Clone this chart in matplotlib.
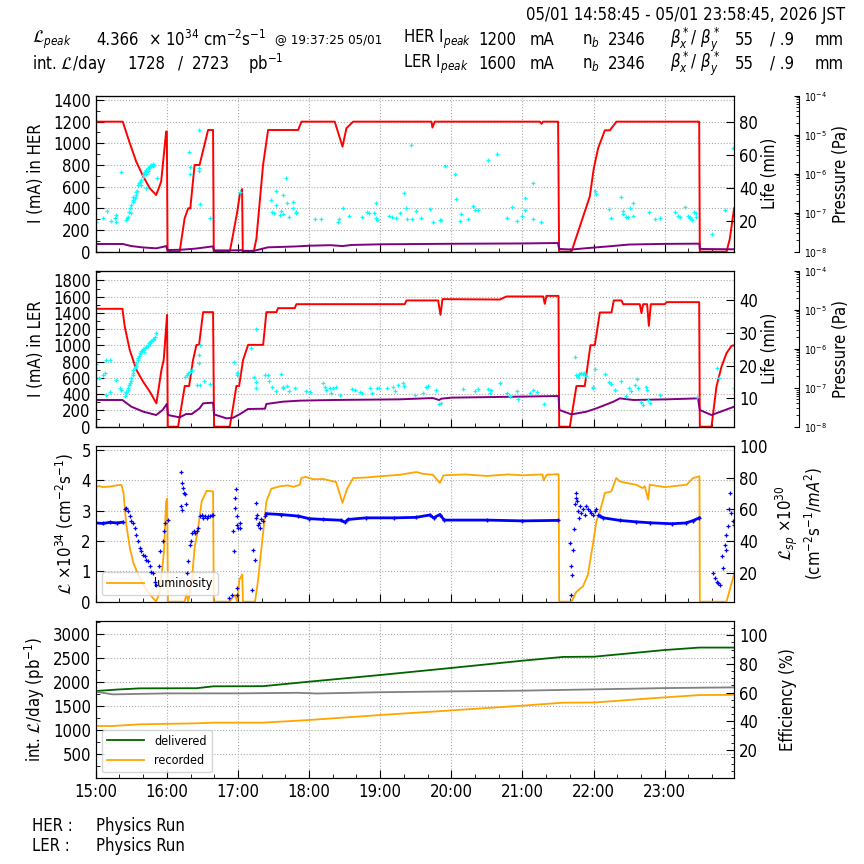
import matplotlib
matplotlib.use("Agg")
import matplotlib.pyplot as plt
from matplotlib.ticker import MultipleLocator, FixedLocator

plt.rcParams['font.family'] = ['DejaVu Sans']
plt.rcParams['font.stretch'] = 'condensed'
plt.rcParams['font.size'] = 12

# ---- data (time in hours, JST) ----
her_current = [(14.98, 1200), (15.38, 1200), (15.43, 1100), (15.48, 1000), (15.57, 830), (15.67, 692),
               (15.76, 585), (15.85, 523), (15.92, 646), (15.99, 1108), (16.0, 1110), (16.01, 0),
               (16.18, 0), (16.25, 308), (16.30, 400), (16.33, 400), (16.39, 800), (16.46, 800),
               (16.58, 1123), (16.65, 1123), (16.66, 0), (16.885, 0), (16.93, 154), (16.99, 369),
               (17.025, 523), (17.058, 578), (17.068, 0), (17.222, 0), (17.26, 123), (17.353, 800),
               (17.424, 1123), (17.846, 1123), (17.893, 1200), (18.361, 1200), (18.47, 970),
               (18.526, 1140), (18.62, 1200), (19.721, 1200), (19.735, 1145), (19.768, 1200),
               (21.245, 1200), (21.269, 1180), (21.29, 1200), (21.502, 1200), (21.516, 0), (21.69, 0),
               (21.948, 510), (22.004, 770), (22.065, 955), (22.159, 1120), (22.229, 1120),
               (22.323, 1200), (23.486, 1200), (23.495, 0), (23.871, 0), (23.917, 120), (23.977, 400)]
her_life = [(14.98, 71), (15.38, 71), (15.5, 52), (15.65, 40), (15.85, 31), (15.95, 45), (15.99, 52),
            (16.01, 15), (16.2, 18), (16.4, 28), (16.6, 45), (16.65, 49), (16.66, 12), (16.9, 12),
            (17.05, 14), (17.07, 8), (17.22, 8), (17.3, 20), (17.42, 40), (17.8, 48), (18.0, 55),
            (18.3, 60), (18.47, 52), (18.6, 62), (19.0, 68), (20.0, 73), (21.0, 76), (21.5, 80),
            (21.516, 25), (21.69, 20), (21.95, 35), (22.23, 50), (22.5, 66), (23.0, 72), (23.49, 74),
            (23.495, 25), (23.977, 22)]
her_press = [(15.01, 508), (15.01, 277), (15.10, 308), (15.16, 375), (15.22, 283), (15.27, 308),
             (15.28, 338), (15.28, 271), (15.36, 732), (15.42, 292), (15.44, 314), (15.45, 323),
             (15.47, 369), (15.48, 400), (15.49, 354), (15.50, 431), (15.52, 462), (15.53, 477),
             (15.53, 508), (15.55, 492), (15.56, 554), (15.57, 523), (15.58, 560), (15.60, 615),
             (15.61, 631), (15.62, 646), (15.63, 615), (15.64, 662), (15.66, 708), (15.67, 692),
             (15.68, 723), (15.69, 738), (15.70, 714), (15.71, 754), (15.73, 769), (15.74, 745),
             (15.75, 775), (15.76, 785), (15.77, 791), (15.78, 800), (15.80, 794), (15.81, 806),
             (15.82, 800), (15.71, 585), (15.86, 683), (16.31, 923), (16.33, 785), (16.32, 714),
             (16.45, 1123), (16.45, 769), (16.45, 745), (16.46, 437), (16.61, 314), (17.03, 554),
             (17.46, 477), (17.48, 369), (17.50, 354), (17.54, 560), (17.54, 431), (17.59, 338),
             (17.60, 375), (17.63, 345), (17.63, 523), (17.67, 677), (17.69, 446), (17.72, 323),
             (17.78, 462), (17.78, 406), (17.81, 369), (17.82, 354), (18.08, 302), (18.17, 302),
             (18.41, 277), (18.42, 302), (18.48, 400), (18.56, 332), (18.74, 323), (18.81, 369),
             (18.84, 354), (18.92, 354), (18.94, 446), (18.94, 314), (18.95, 292), (19.13, 329),
             (19.17, 323), (19.22, 308), (19.28, 354), (19.33, 538), (19.37, 400), (19.38, 302),
             (19.44, 985), (19.45, 302), (19.51, 375), (19.57, 308), (19.70, 394), (19.74, 271),
             (19.84, 292), (19.86, 292), (19.91, 794), (20.05, 714), (20.06, 483), (20.12, 283),
             (20.14, 345), (20.24, 298), (20.31, 425), (20.33, 382), (20.38, 382), (20.52, 846),
             (20.64, 898), (20.78, 308), (20.85, 409), (20.92, 283), (21.00, 332), (21.03, 492),
             (21.04, 385), (21.15, 631), (21.15, 298), (21.26, 277), (22.02, 560), (22.03, 532),
             (22.22, 391), (22.24, 308), (22.39, 502), (22.41, 378), (22.42, 345), (22.46, 323),
             (22.49, 323), (22.52, 400), (22.56, 446), (22.56, 332), (22.78, 363), (22.86, 298),
             (22.93, 308), (23.14, 363), (23.19, 329), (23.21, 317), (23.28, 409), (23.33, 332),
             (23.35, 323), (23.36, 308), (23.38, 292), (23.42, 369), (23.44, 360), (23.44, 323),
             (23.66, 160), (23.85, 385), (23.96, 960)]

ler_current = [(14.98, 1451), (15.375, 1451), (15.408, 1233), (15.478, 945), (15.572, 699),
               (15.666, 555), (15.76, 432), (15.853, 288), (15.924, 699), (15.956, 822),
               (16.003, 1377), (16.013, 0), (16.158, 0), (16.252, 501), (16.313, 501), (16.369, 822),
               (16.416, 1007), (16.453, 1007), (16.51, 1410), (16.65, 1410), (16.664, 0), (16.885, 0),
               (16.932, 247), (16.978, 501), (17.016, 501), (17.072, 822), (17.143, 1007),
               (17.354, 1007), (17.4, 1410), (17.541, 1410), (17.564, 1459), (17.799, 1459),
               (17.822, 1508), (19.346, 1508), (19.37, 1554), (19.815, 1554), (19.848, 1377),
               (19.876, 1570), (20.682, 1565), (20.776, 1603), (21.292, 1603), (21.315, 1512),
               (21.338, 1610), (21.507, 1610), (21.517, 0), (21.667, 0), (21.76, 501), (21.877, 501),
               (21.957, 1003), (22.018, 1003), (22.089, 1406), (22.253, 1406), (22.285, 1554),
               (22.393, 1554), (22.417, 1508), (22.651, 1508), (22.674, 1397), (22.698, 1508),
               (22.754, 1508), (22.778, 1241), (22.806, 1508), (23.003, 1508), (23.026, 1533),
               (23.486, 1533), (23.495, 0), (23.659, 0), (23.729, 493), (23.8, 740), (23.87, 904),
               (23.94, 995), (23.978, 1003)]
ler_life = [(14.98, 329), (15.375, 329), (15.5, 247), (15.67, 185), (15.85, 144), (15.94, 206),
            (16.0, 280), (16.015, 144), (16.18, 115), (16.27, 156), (16.35, 156), (16.46, 226),
            (16.51, 288), (16.65, 296), (16.664, 152), (16.84, 103), (16.93, 110), (17.03, 156),
            (17.14, 218), (17.38, 222), (17.4, 280), (17.63, 308), (17.87, 321), (18.34, 329),
            (19.27, 337), (19.74, 353), (19.83, 329), (19.86, 345), (20.0, 358), (20.96, 370),
            (21.507, 378), (21.52, 206), (21.69, 152), (21.9, 185), (22.04, 226), (22.28, 308),
            (22.37, 349), (22.56, 329), (23.03, 337), (23.47, 349), (23.495, 206), (23.659, 144),
            (23.978, 247)]
ler_press = [(15.01, 773), (15.05, 596), (15.10, 637), (15.13, 658), (15.14, 822), (15.15, 390),
             (15.20, 822), (15.20, 432), (15.29, 575), (15.34, 473), (15.36, 452),
             (15.41, 378), (15.42, 411), (15.43, 432), (15.45, 452), (15.46, 473), (15.47, 514),
             (15.48, 543), (15.49, 567), (15.50, 596), (15.52, 637), (15.53, 658), (15.53, 699),
             (15.55, 719), (15.56, 748), (15.57, 781), (15.59, 822), (15.60, 843), (15.61, 871),
             (15.62, 904), (15.63, 912), (15.64, 937), (15.66, 945), (15.67, 954), (15.68, 925),
             (15.69, 966), (15.70, 986), (15.71, 978), (15.73, 995), (15.74, 1007), (15.75, 1028),
             (15.76, 1036), (15.77, 1048), (15.78, 1056), (15.80, 1069), (15.81, 1077),
             (15.82, 1085), (15.83, 1101), (15.85, 1151),
             (16.25, 616), (16.28, 637), (16.30, 666), (16.32, 678), (16.35, 699), (16.42, 514),
             (16.45, 884), (16.45, 789), (16.46, 514), (16.52, 567), (16.60, 526), (16.46, 1007),
             (16.95, 801), (16.98, 658), (16.99, 637), (17.00, 658), (17.18, 966), (17.26, 1200),
             (17.22, 608), (17.25, 555), (17.26, 481), (17.38, 637), (17.42, 637), (17.44, 567),
             (17.48, 493), (17.54, 444), (17.61, 645), (17.63, 493), (17.63, 473), (17.69, 501),
             (17.72, 444), (17.80, 473), (17.95, 444), (18.01, 432), (18.20, 534), (18.22, 493),
             (18.24, 452), (18.29, 481), (18.31, 411), (18.34, 481), (18.38, 493), (18.44, 390),
             (18.60, 460), (18.64, 452), (18.71, 432), (18.75, 419), (18.85, 473), (18.88, 411),
             (18.95, 481), (18.99, 481), (19.09, 473), (19.18, 493), (19.21, 440), (19.25, 514),
             (19.32, 534), (19.33, 501), (19.49, 390), (19.60, 411), (19.65, 493), (19.67, 501),
             (19.79, 452), (19.83, 280), (19.85, 296),
             (20.17, 460), (20.33, 440), (20.38, 460), (20.52, 460), (20.54, 419), (20.56, 452),
             (20.68, 534), (20.79, 419), (20.82, 378), (20.92, 440), (20.94, 337), (21.10, 411),
             (21.15, 452), (21.20, 432), (21.30, 280), (21.74, 863), (21.76, 637), (21.78, 616),
             (21.80, 649), (21.82, 658), (21.85, 645), (21.87, 658), (21.89, 625), (21.99, 493),
             (21.99, 473), (22.02, 707), (22.16, 645), (22.22, 555), (22.24, 526), (22.30, 452),
             (22.39, 563), (22.45, 378), (22.5, 473), (22.53, 444), (22.59, 514), (22.61, 588),
             (22.63, 481), (22.67, 308), (22.69, 267), (22.74, 493), (22.75, 452), (22.77, 329),
             (22.79, 296), (22.93, 390), (23.45, 370), (23.73, 719), (23.77, 596), (23.98, 481)]

lumi = [(14.98, 3.77), (15.05, 3.82), (15.1, 3.78), (15.2, 3.80), (15.3, 3.84), (15.36, 3.86),
        (15.39, 3.6), (15.43, 2.54), (15.48, 1.77), (15.53, 1.27), (15.62, 0.77), (15.71, 0.39),
        (15.81, 0.11), (15.85, 0), (15.90, 0.33), (15.96, 1.66), (15.99, 3.31), (16.005, 3.4),
        (16.015, 0), (16.25, 0), (16.28, 0.28), (16.30, 0), (16.35, 0.66), (16.39, 1.77),
        (16.44, 2.43), (16.49, 3.31), (16.56, 3.66), (16.65, 3.64), (16.66, 0), (16.885, 0),
        (16.93, 0.17), (16.955, 0.22), (16.99, 0), (17.02, 0.72), (17.06, 0.9), (17.07, 0),
        (17.24, 0), (17.28, 0.66), (17.35, 2.2), (17.40, 3.31), (17.47, 3.73), (17.59, 3.81),
        (17.7, 3.84), (17.78, 3.79), (17.87, 3.86), (17.89, 4.08), (17.95, 4.12), (18.06, 4.04),
        (18.2, 4.05), (18.34, 3.97), (18.38, 3.95), (18.47, 3.26), (18.53, 3.7), (18.62, 4.08),
        (18.81, 4.1), (19.0, 4.14), (19.28, 4.19), (19.51, 4.28), (19.6, 4.22), (19.74, 4.19),
        (19.84, 3.92), (19.89, 4.17), (20.2, 4.2), (20.5, 4.15), (20.8, 4.2), (21.0, 4.17),
        (21.28, 4.2), (21.30, 4.0), (21.34, 4.19), (21.51, 4.21), (21.517, 0), (21.69, 0),
        (21.76, 0.33), (21.85, 0.5), (21.92, 0.88), (21.99, 1.88), (22.04, 2.65), (22.09, 2.98),
        (22.16, 3.59), (22.25, 3.64), (22.32, 4.08), (22.37, 3.97), (22.46, 3.92), (22.60, 3.86),
        (22.69, 3.75), (22.72, 3.81), (22.77, 3.37), (22.79, 3.86), (22.93, 3.81), (23.0, 3.78),
        (23.31, 3.86), (23.40, 4.08), (23.49, 4.14), (23.495, 0), (23.87, 0), (23.98, 0.94)]
lsp_band = [[(14.98, 51.6), (15.1, 51.2), (15.2, 51.9), (15.3, 51.5), (15.38, 52.0)],
            [(17.40, 57.3), (17.6, 56.8), (17.85, 55.8), (18.0, 54.2), (18.2, 53.7), (18.45, 53.2),
             (18.5, 52.0), (18.55, 53.7), (18.8, 54.7), (19.2, 54.7), (19.5, 55.0), (19.7, 56.5),
             (19.75, 54.7), (19.84, 56.8), (19.9, 53.3), (20.5, 53.3), (21.0, 52.8), (21.5, 53.1)],
            [(22.09, 55.8), (22.14, 54.7), (22.37, 53.1), (22.6, 52.2), (22.8, 51.6), (23.1, 51.0),
             (23.3, 51.5), (23.4, 53.0), (23.49, 54.7)]]
lsp_points = [(15.41, 60), (15.43, 60.6), (15.46, 58.9), (15.48, 55.8), (15.50, 52.6), (15.53, 51.6),
              (15.55, 48.4), (15.57, 44.2), (15.60, 40), (15.62, 35.8), (15.64, 33.7), (15.67, 31.6),
              (15.69, 30.5), (15.71, 28.4), (15.74, 27.4), (15.76, 24.2), (15.78, 21), (15.81, 20),
              (15.83, 14.7), (15.85, 12.6), (15.89, 24.2), (15.91, 33.7), (15.94, 40), (15.96, 46.3),
              (15.98, 51.6), (16.02, 53.1), (16.20, 83.2), (16.22, 76.8), (16.23, 73.7),
              (16.24, 70.5), (16.25, 69.5), (16.20, 62.1), (16.22, 59.4), (16.27, 63.2), (16.28, 20),
              (16.30, 27.4), (16.32, 37.9), (16.34, 40), (16.36, 45.3), (16.38, 46.3), (16.39, 45.3),
              (16.42, 46.3), (16.44, 48.4), (16.46, 55.8), (16.49, 56.8), (16.51, 54.7),
              (16.53, 55.8), (16.56, 54.7), (16.58, 55.8), (16.60, 55.8), (16.63, 56.8),
              (16.65, 56.8), (16.88, 4.2), (16.91, 6.3), (16.93, 46.3), (16.94, 33.7), (16.96, 67.4),
              (16.96, 61.1), (16.97, 72.6), (16.98, 55.8), (16.99, 50.5), (17.00, 48.4),
              (17.03, 51.6), (17.03, 48.4), (16.98, 10.5), (16.99, 6.3), (17.20, 9.5), (17.21, 34.7),
              (17.24, 28.4), (17.25, 54.7), (17.26, 64.2), (17.27, 56.8), (17.28, 50.5),
              (17.30, 51.6), (17.31, 48.4), (17.33, 53.7), (17.35, 52.6), (17.38, 55.8),
              (21.67, 38.9), (21.69, 24.2), (21.69, 6.3), (21.70, 18.9), (21.71, 34.7), (21.72, 47.4),
              (21.74, 63.2), (21.75, 67.4), (21.76, 70.5), (21.77, 65.3), (21.78, 59), (21.80, 54.7),
              (21.81, 62.1), (21.83, 57.9), (21.85, 60), (21.88, 56.8), (21.90, 62.1), (21.92, 60),
              (21.95, 58.9), (21.97, 57.9), (21.99, 56.8), (22.02, 58.9), (22.04, 60), (22.06, 56.8),
              (23.68, 20), (23.71, 16.8), (23.73, 14.7), (23.75, 13.7), (23.78, 12.6), (23.80, 30.5),
              (23.82, 23.2), (23.85, 37.9), (23.86, 34.7), (23.87, 44.2), (23.89, 49.5), (23.91, 60),
              (23.92, 70.5), (23.94, 57.9), (23.96, 52.6), (23.98, 50.5)]

delivered = [(15.0, 1819), (15.3, 1850), (15.62, 1875), (16.42, 1878), (16.65, 1917), (17.35, 1920),
             (18.0, 2014), (19.0, 2153), (20.0, 2300), (21.0, 2451), (21.57, 2530), (22.01, 2535),
             (23.0, 2674), (23.49, 2725), (23.98, 2725)]
recorded = [(15.0, 1090), (15.24, 1090), (15.62, 1125), (16.42, 1146), (16.65, 1160), (17.35, 1160),
            (18.0, 1215), (19.0, 1319), (20.0, 1415), (21.0, 1514), (21.57, 1576), (22.01, 1580),
            (23.0, 1687), (23.49, 1735), (23.98, 1740)]
efficiency = [(15.0, 60.6), (15.24, 58.7), (16.0, 59.4), (17.0, 59.4), (17.85, 59.8), (18.1, 59.3),
              (19.0, 60.2), (20.0, 60.8), (21.0, 61.3), (22.0, 62.2), (23.0, 63.1), (23.98, 63.6)]

hour_ticks = list(range(15, 24))
hour_labels = ["%d:00" % h for h in hour_ticks]
x_range = (15.0, 23.98)


def xy(pairs):
    return [p[0] for p in pairs], [p[1] for p in pairs]


fig = plt.figure(figsize=(8.64, 8.64), dpi=100)
L, W = 0.1108, 0.7391
ax1 = fig.add_axes([L, 0.7087, W, 0.1806])
ax2 = fig.add_axes([L, 0.5061, W, 0.1806])
ax3 = fig.add_axes([L, 0.3036, W, 0.1806])
ax4 = fig.add_axes([L, 0.0992, W, 0.1820])


def style(ax, last=False):
    ax.set_xlim(*x_range)
    ax.xaxis.set_major_locator(FixedLocator(hour_ticks))
    ax.xaxis.set_minor_locator(MultipleLocator(1 / 3))
    ax.grid(True, which='major', color='#aaaaaa', linestyle=':', linewidth=0.8)
    ax.tick_params(which='both', direction='in', labelsize=12)
    ax.tick_params(which='major', length=6)
    ax.tick_params(which='minor', length=3)
    if last:
        ax.set_xticklabels(hour_labels)
    else:
        ax.set_xticklabels([])


def add_pressure(ax):
    p = ax.twinx()
    p.spines['right'].set_position(('axes', 1.102))
    p.set_yscale('log')
    p.set_ylim(1e-8, 1e-4)
    p.tick_params(which='both', direction='in', labelsize=7.5)
    p.set_ylabel("Pressure (Pa)", fontsize=12, labelpad=3)
    return p


# panel 1 : HER
t, v = xy(her_current)
ax1.plot(t, v, color='red', lw=1.4)
t, v = xy(her_life)
ax1.plot(t, v, color='purple', lw=1.4)
t, v = xy(her_press)
ax1.plot(t, v, ls='none', marker='+', ms=3, mew=0.9, color='cyan')
ax1.set_ylim(0, 1440)
ax1.yaxis.set_major_locator(MultipleLocator(200))
ax1.yaxis.set_minor_locator(MultipleLocator(100))
ax1.set_ylabel("I (mA) in HER", labelpad=6)
style(ax1)
r1 = ax1.twinx()
r1.set_ylim(1.4, 95.7)
r1.set_yticks([20, 40, 60, 80])
r1.tick_params(direction='in', labelsize=12, length=6)
r1.set_ylabel("Life (min)", labelpad=2)
add_pressure(ax1)

# panel 2 : LER
t, v = xy(ler_current)
ax2.plot(t, v, color='red', lw=1.4)
t, v = xy(ler_life)
ax2.plot(t, v, color='purple', lw=1.4)
t, v = xy(ler_press)
ax2.plot(t, v, ls='none', marker='+', ms=3, mew=0.9, color='cyan')
ax2.set_ylim(0, 1920)
ax2.yaxis.set_major_locator(MultipleLocator(200))
ax2.yaxis.set_minor_locator(MultipleLocator(100))
ax2.set_ylabel("I (mA) in LER", labelpad=6)
style(ax2)
r2 = ax2.twinx()
r2.set_ylim(1.36, 48.9)
r2.set_yticks([10, 20, 30, 40])
r2.tick_params(direction='in', labelsize=12, length=6)
r2.set_ylabel("Life (min)", labelpad=2)
add_pressure(ax2)

# panel 3 : luminosity
t, v = xy(lumi)
ax3.plot(t, v, color='orange', lw=1.3, label='luminosity')
ax3.set_ylim(0, 5.15)
ax3.yaxis.set_major_locator(MultipleLocator(1))
ax3.set_ylabel(r"$\mathcal{L}$ ×10$^{34}$ (cm$^{-2}$s$^{-1}$)")
style(ax3)
ax3.legend(loc='lower left', fontsize=9, handlelength=3, borderpad=0.4)
r3 = ax3.twinx()
for seg in lsp_band:
    t, v = xy(seg)
    r3.plot(t, v, color='blue', lw=2.0, marker='+', ms=3)
t, v = xy(lsp_points)
r3.plot(t, v, ls='none', marker='+', ms=3, mew=0.9, color='blue')
r3.set_ylim(2.1, 100)
r3.set_yticks([20, 40, 60, 80, 100])
r3.tick_params(direction='in', labelsize=12, length=6)
r3.set_ylabel("$\\mathcal{L}_{sp}$ ×10$^{30}$\n(cm$^{-2}$s$^{-1}$/$mA^2$)")

# panel 4 : integrated
t, v = xy(delivered)
ax4.plot(t, v, color='darkgreen', lw=1.3, label='delivered')
t, v = xy(recorded)
ax4.plot(t, v, color='orange', lw=1.3, label='recorded')
ax4.set_ylim(0, 3278)
ax4.set_yticks([500, 1000, 1500, 2000, 2500, 3000])
ax4.yaxis.set_minor_locator(MultipleLocator(250))
ax4.set_ylabel(r"int. $\mathcal{L}$/day (pb$^{-1}$)")
style(ax4, last=True)
ax4.legend(loc='lower left', fontsize=9, handlelength=3, borderpad=0.4)
r4 = ax4.twinx()
t, v = xy(efficiency)
r4.plot(t, v, color='gray', lw=1.3)
r4.set_ylim(0, 110)
r4.set_yticks([20, 40, 60, 80, 100])
r4.yaxis.set_minor_locator(MultipleLocator(5))
r4.tick_params(which='both', direction='in', labelsize=12)
r4.tick_params(which='major', length=6)
r4.set_ylabel("Efficiency (%)", labelpad=8)

# header
fig.text(0.978, 0.983, "05/01 14:58:45 - 05/01 23:58:45, 2026 JST", ha='right', va='center', fontsize=12)
rows = [0.954, 0.926]
fig.text(0.037, rows[0], r"$\mathcal{L}_{peak}$", va='center', fontsize=12)
fig.text(0.111, rows[0], "4.366", va='center', fontsize=12)
fig.text(0.171, rows[0], r"× 10$^{34}$ cm$^{-2}$s$^{-1}$", va='center', fontsize=12)
fig.text(0.318, rows[0], "@ 19:37:25 05/01", va='center', fontsize=9.5)
fig.text(0.037, rows[1], r"int. $\mathcal{L}$/day", va='center', fontsize=12)
fig.text(0.147, rows[1], "1728", va='center', fontsize=12)
fig.text(0.206, rows[1], "/", va='center', fontsize=12)
fig.text(0.222, rows[1], "2723", va='center', fontsize=12)
fig.text(0.287, rows[1], r"pb$^{-1}$", va='center', fontsize=12)
for y, ring, ipk in [(rows[0], "HER", "1200"), (rows[1], "LER", "1600")]:
    fig.text(0.466, y, ring + r" I$_{peak}$", va='center', fontsize=12)
    fig.text(0.554, y, ipk, va='center', fontsize=12)
    fig.text(0.613, y, "mA", va='center', fontsize=12)
    fig.text(0.674, y, r"n$_b$", va='center', fontsize=12)
    fig.text(0.703, y, "2346", va='center', fontsize=12)
    fig.text(0.775, y, r"$\beta^*_x$/ $\beta^*_y$", va='center', fontsize=12)
    fig.text(0.851, y, "55", va='center', fontsize=12)
    fig.text(0.891, y, "/ .9", va='center', fontsize=12)
    fig.text(0.943, y, "mm", va='center', fontsize=12)

# footer
fig.text(0.037, 0.044, "HER :", va='center', fontsize=12)
fig.text(0.111, 0.044, "Physics Run", va='center', fontsize=12)
fig.text(0.037, 0.021, "LER :", va='center', fontsize=12)
fig.text(0.111, 0.021, "Physics Run", va='center', fontsize=12)

fig.savefig("out.png", dpi=100)
